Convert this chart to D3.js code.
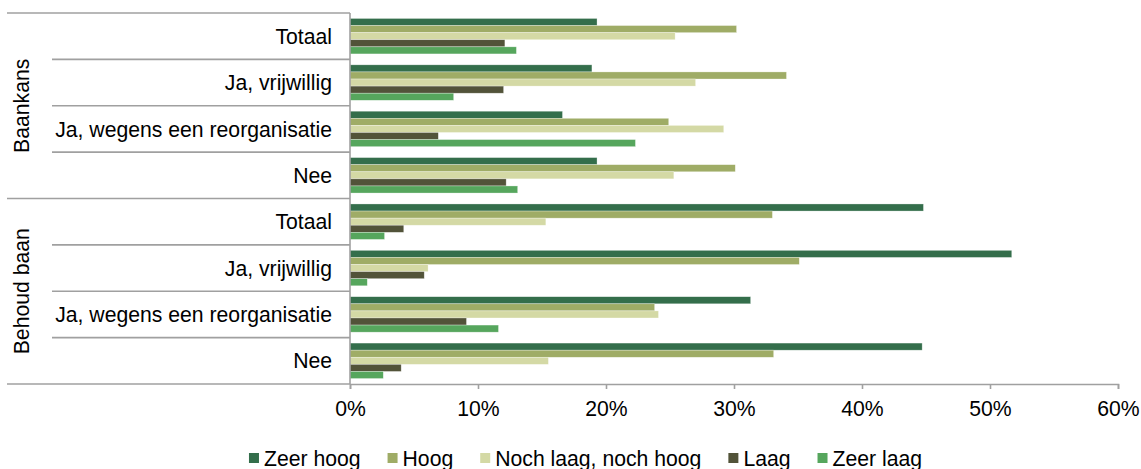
<!DOCTYPE html>
<html>
<head>
<meta charset="utf-8">
<script src="https://cdn.jsdelivr.net/npm/d3@7"></script>
<style>
  html, body { margin: 0; padding: 0; background: #fff; }
  svg { display: block; font-family: "Liberation Sans", Arial, sans-serif; }
</style>
</head>
<body>
<svg id="chart" width="1141" height="469"></svg>
<script>
// Groups and their sub-categories (top to bottom)
const groups = ["Baankans", "Behoud baan"];
const subCategories = ["Totaal", "Ja, vrijwillig", "Ja, wegens een reorganisatie", "Nee"];
const seriesNames = ["Zeer hoog", "Hoog", "Noch laag, noch hoog", "Laag", "Zeer laag"];
const seriesColors = ["#346e4b", "#9fac66", "#d4d9a5", "#525339", "#56a65d"];
const tickValues = [0, 0.1, 0.2, 0.3, 0.4, 0.5, 0.6];

// Shares per row: Baankans (4 rows) then Behoud baan (4 rows)
const zeerHoog = [0.193, 0.189, 0.166, 0.193, 0.448, 0.517, 0.313, 0.447];
const hoog     = [0.302, 0.341, 0.249, 0.301, 0.330, 0.351, 0.238, 0.331];
const noch     = [0.254, 0.270, 0.292, 0.253, 0.153, 0.061, 0.241, 0.155];
const laag     = [0.121, 0.120, 0.069, 0.122, 0.042, 0.058, 0.091, 0.040];
const zeerLaag = [0.130, 0.081, 0.223, 0.131, 0.027, 0.0135, 0.116, 0.026];

const seriesValues = [zeerHoog, hoog, noch, laag, zeerLaag];

const rows = [];
groups.forEach((g, gi) => subCategories.forEach((c, ci) => {
  rows.push({ key: g + "|" + c, group: g, label: c, idx: gi * subCategories.length + ci });
}));

const svg = d3.select("#chart");
const fontSize = 21.2;
const axisColor = "#a0a0a0";

const x = d3.scaleLinear().domain([0, 0.6]).range([350, 1118]);
const y0 = d3.scaleBand().domain(rows.map(r => r.key)).range([13, 384]).paddingInner(0).paddingOuter(0);
const y1 = d3.scaleBand().domain(seriesNames).range([0, y0.bandwidth()]).paddingInner(0).paddingOuter(0.77);

// Bars
const rowG = svg.append("g").selectAll("g").data(rows).join("g")
  .attr("transform", d => `translate(0,${y0(d.key)})`);

rowG.selectAll("rect")
  .data(d => seriesNames.map((s, si) => ({ s, si, v: seriesValues[si][d.idx] })))
  .join("rect")
  .attr("x", x(0))
  .attr("y", d => y1(d.s))
  .attr("width", d => x(d.v) - x(0))
  .attr("height", y1.bandwidth())
  .attr("fill", d => seriesColors[d.si])
  .attr("stroke", "#ffffff")
  .attr("stroke-opacity", 0.5)
  .attr("stroke-width", 0.6);

// Bottom axis
const xAxis = d3.axisBottom(x).tickValues(tickValues).tickFormat(d3.format(".0%")).tickSize(5).tickPadding(12);
const xg = svg.append("g").attr("transform", "translate(0,384)").call(xAxis);
xg.select(".domain").attr("stroke", axisColor).attr("stroke-width", 1.6);
xg.selectAll(".tick line").attr("stroke", axisColor).attr("stroke-width", 1.6);
xg.selectAll(".tick text").attr("font-size", fontSize).attr("font-family", "Liberation Sans, Arial, sans-serif").attr("fill", "#000");

// Vertical category axis line
svg.append("line")
  .attr("x1", 350).attr("x2", 350).attr("y1", y0.range()[0]).attr("y2", y0.range()[1])
  .attr("stroke", axisColor).attr("stroke-width", 1.6);

// Row separators: long at group boundaries, short between sub-categories
const boundaries = rows.map(r => y0(r.key)).concat([y0.range()[1]]);
boundaries.forEach((yy, i) => {
  const isGroupEdge = i % subCategories.length === 0;
  svg.append("line")
    .attr("x1", isGroupEdge ? 7 : 52).attr("x2", 350)
    .attr("y1", yy).attr("y2", yy)
    .attr("stroke", axisColor).attr("stroke-width", 1.6);
});

// Sub-category labels
svg.append("g").selectAll("text").data(rows).join("text")
  .attr("x", 332)
  .attr("y", d => y0(d.key) + y0.bandwidth() / 2)
  .attr("dy", "0.36em")
  .attr("text-anchor", "end")
  .attr("font-size", fontSize)
  .attr("fill", "#000")
  .text(d => d.label);

// Group labels (rotated)
groups.forEach((g, gi) => {
  const top = y0(rows[gi * subCategories.length].key);
  const bottom = y0(rows[gi * subCategories.length + subCategories.length - 1].key) + y0.bandwidth();
  const cy = (top + bottom) / 2;
  svg.append("text")
    .attr("transform", `translate(21,${cy}) rotate(-90)`)
    .attr("dy", "0.36em")
    .attr("text-anchor", "middle")
    .attr("font-size", fontSize)
    .attr("fill", "#000")
    .text(g);
});

// Legend
const legend = svg.append("g");
const items = legend.selectAll("g").data(seriesNames).join("g");
items.append("rect").attr("width", 10).attr("height", 10).attr("y", -5)
  .attr("fill", (d, i) => seriesColors[i]);
items.append("text").attr("x", 15).attr("dy", "0.36em")
  .attr("font-size", fontSize).attr("fill", "#000").text(d => d);
let cursor = 0;
items.each(function() {
  const w = d3.select(this).select("text").node().getComputedTextLength();
  d3.select(this).attr("transform", `translate(${cursor},0)`);
  cursor += 15 + w + 27;
});
const legendWidth = cursor - 27;
legend.attr("transform", `translate(${585.5 - legendWidth / 2},458)`);
</script>
</body>
</html>
